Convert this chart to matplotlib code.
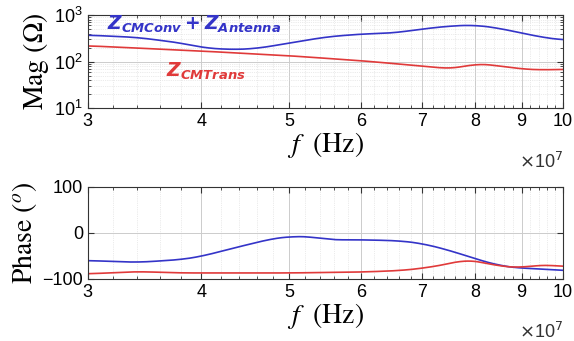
import numpy as np
import matplotlib
matplotlib.use("Agg")
import matplotlib.pyplot as plt
from matplotlib.ticker import FixedLocator, NullFormatter, LogLocator

# Frequency points (Hz)
freq_mag = [3.0e7, 3.4e7, 3.8e7, 4.0e7, 4.3e7, 4.6e7, 5.0e7, 5.5e7, 6.0e7, 6.5e7,
            7.0e7, 7.5e7, 8.0e7, 8.5e7, 9.0e7, 9.5e7, 10.0e7]
# |Z_CMConv + Z_Antenna| (Ohm)
mag_conv = [370, 330, 250, 200, 180, 190, 250, 340, 390, 410,
            500, 580, 610, 520, 410, 330, 290]
# |Z_CMTrans| (Ohm)
freq_trans = [3.0e7, 4.0e7, 5.0e7, 6.0e7, 7.0e7, 7.5e7, 7.7e7, 8.0e7, 8.5e7,
              9.0e7, 9.5e7, 10.0e7]
mag_trans = [218, 168, 133, 104, 80, 70, 74, 91, 81, 69, 66, 68]

# Phase (deg)
freq_ph_conv = [3.0e7, 3.4e7, 3.8e7, 4.0e7, 4.4e7, 4.8e7, 5.0e7, 5.3e7, 5.5e7,
                6.0e7, 6.6e7, 7.0e7, 7.5e7, 8.0e7, 8.5e7, 9.0e7, 9.5e7, 10.0e7]
ph_conv = [-60, -64, -58, -51, -30, -12, -8, -8, -15,
           -15, -17, -23, -38, -56, -71, -77, -78, -82]
freq_ph_trans = [3.0e7, 3.4e7, 3.8e7, 5.0e7, 6.0e7, 6.6e7, 7.0e7, 7.5e7, 7.8e7,
                 8.0e7, 8.5e7, 9.0e7, 9.3e7, 9.5e7, 10.0e7]
ph_trans = [-89, -84, -87, -87, -85, -82, -77, -67, -58,
            -61, -72, -76, -71, -69, -73]

xtick_vals = [3e7, 4e7, 5e7, 6e7, 7e7, 8e7, 9e7, 1e8]
xtick_labels = ["3", "4", "5", "6", "7", "8", "9", "10"]

BLUE = "#3434c8"
RED = "#e03a3a"

plt.rcParams["mathtext.fontset"] = "dejavusans"
plt.rcParams["font.family"] = ["Liberation Sans", "DejaVu Sans"]

fig = plt.figure(figsize=(5.74, 3.41), dpi=100)
ax1 = fig.add_axes([0.153, 0.683, 0.828, 0.273])
ax2 = fig.add_axes([0.153, 0.182, 0.828, 0.270])


def smooth(x, y, n=300):
    lx = np.log10(x)
    xs = np.linspace(lx[0], lx[-1], n)
    ys = np.interp(xs, lx, y)
    k = 9
    pad = np.pad(ys, k, mode="edge")
    ys = np.convolve(pad, np.ones(2 * k + 1) / (2 * k + 1), mode="same")[k:-k]
    return 10 ** xs, ys


def style_x(ax):
    ax.set_xscale("log")
    ax.set_xlim(3e7, 1e8)
    ax.xaxis.set_major_locator(FixedLocator(xtick_vals))
    ax.set_xticklabels(xtick_labels)
    ax.xaxis.set_minor_locator(FixedLocator(np.arange(3e7, 1e8, 0.2e7)))
    ax.xaxis.set_minor_formatter(NullFormatter())
    ax.tick_params(which="both", direction="in", top=True, right=True,
                   labelsize=13, color="#333333")
    ax.tick_params(which="major", length=4)
    ax.tick_params(which="minor", length=2)
    ax.grid(True, which="major", color="#cccccc", linewidth=0.7)
    ax.grid(True, which="minor", color="#d8d8d8", linewidth=0.5, linestyle=":")
    for s in ax.spines.values():
        s.set_color("#333333")
        s.set_linewidth(0.8)
    ax.set_xlabel(r"$f\ $ (Hz)", fontfamily="STIXGeneral", math_fontfamily="stix",
                  fontsize=20, labelpad=0)
    ax.text(1.0, -0.47, r"$\times$10$^7$", transform=ax.transAxes,
            ha="right", va="top", fontsize=13, color="#333333")


# Magnitude
x, y = smooth(freq_mag, np.log10(mag_conv))
ax1.plot(x, 10 ** y, color=BLUE, linewidth=1.2)
x, y = smooth(freq_trans, np.log10(mag_trans))
ax1.plot(x, 10 ** y, color=RED, linewidth=1.2)
ax1.set_yscale("log")
ax1.set_ylim(10, 1000)
ax1.yaxis.set_major_locator(FixedLocator([10, 100, 1000]))
ax1.yaxis.set_minor_locator(LogLocator(base=10, subs=np.arange(2, 10)))
ax1.yaxis.set_minor_formatter(NullFormatter())
style_x(ax1)
ax1.set_ylabel(r"Mag ($\Omega$)", fontfamily="STIXGeneral", math_fontfamily="stix",
               fontsize=20, labelpad=2)
ax1.text(0.04, 0.90, r"$\mathbfit{Z_{CMConv}+Z_{Antenna}}$", transform=ax1.transAxes,
         color=BLUE, fontsize=13.5, ha="left", va="center")
ax1.text(0.165, 0.40, r"$\mathbfit{Z_{CMTrans}}$", transform=ax1.transAxes,
         color=RED, fontsize=13.5, ha="left", va="center")

# Phase
x, y = smooth(freq_ph_conv, ph_conv)
ax2.plot(x, y, color=BLUE, linewidth=1.2)
x, y = smooth(freq_ph_trans, ph_trans)
ax2.plot(x, y, color=RED, linewidth=1.2)
ax2.set_ylim(-100, 100)
ax2.set_yticks([-100, 0, 100])
style_x(ax2)
ax2.set_ylabel(r"Phase ($^{o}$)", fontfamily="STIXGeneral", math_fontfamily="stix",
               fontsize=20, labelpad=2)

fig.savefig("out.png", dpi=100, facecolor="white")
